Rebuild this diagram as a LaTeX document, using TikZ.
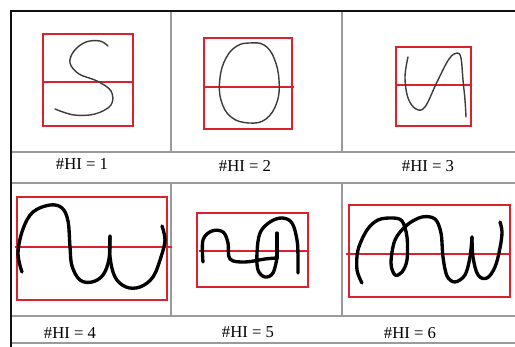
\documentclass[tikz,border=0pt]{standalone}
\usepackage{fontspec}
\setmainfont{Liberation Serif}
\definecolor{frame}{HTML}{111111}
\definecolor{rule}{HTML}{9A9A9A}
\definecolor{boxred}{HTML}{D8232E}
\definecolor{pencil}{HTML}{3C3C3C}
\definecolor{marker}{HTML}{000000}

\begin{document}
\begin{tikzpicture}[
  x=0.02cm, y=-0.02cm,
  outer/.style={draw=frame,line width=1.1pt},
  grid/.style={draw=rule,line width=0.6pt},
  bbox/.style={draw=boxred,line width=1.1pt},
  thin stroke/.style={draw=pencil,line width=0.8pt,line cap=round,line join=round},
  thick stroke/.style={draw=marker,line width=1.9pt,line cap=round,line join=round},
  label/.style={font=\fontsize{9.5}{11}\selectfont,text=black,inner sep=1pt}
]
\useasboundingbox (0,0) rectangle (515,347);

% Table rules
\draw[grid] (11,152) -- (515,152);
\draw[grid] (11,183) -- (515,183);
\draw[grid] (11,316) -- (515,316);
\draw[grid] (11,343) -- (515,343);
\draw[grid] (171,11) -- (171,152);
\draw[grid] (342,11) -- (342,152);
\draw[grid] (171,183) -- (171,316);
\draw[grid] (342,183) -- (342,316);
\draw[outer] (11,347) -- (11,11) -- (515,11);

% Bounding boxes with middle line
\draw[bbox] (43,34) rectangle (133,126);  \draw[bbox] (43,82) -- (133,82);
\draw[bbox] (204,38) rectangle (292,129); \draw[bbox] (204,87) -- (294,87);
\draw[bbox] (396,47) rectangle (471,126); \draw[bbox] (396,85) -- (471,85);
\draw[bbox] (17,197) rectangle (167,300); \draw[bbox] (15,247) -- (172,247);
\draw[bbox] (197,213) rectangle (308,287); \draw[bbox] (199,251) -- (308,251);
\draw[bbox] (349,205) rectangle (510,297); \draw[bbox] (346,254) -- (510,254);

% Row 1 strokes
\draw[thin stroke] plot[smooth,tension=0.6] coordinates {(108,46) (100,41) (86,42) (74,51) (70,63)
  (79,74) (97,81) (111,91) (111,105) (95,114) (74,115) (55,109)};
\draw[thin stroke] plot[smooth cycle,tension=0.7] coordinates {(250,43) (264,45) (274,58) (279,80)
  (277,102) (266,119) (249,123) (231,117) (221,100) (220,78) (226,58) (237,46)};
\draw[thin stroke] plot[smooth,tension=0.6] coordinates {(408,57) (405,77) (408,98) (416,109)
  (425,107) (437,82) (449,59) (457,53) (461,58) (463,80) (465,100) (466,117)};

% Row 2 strokes
\draw[thick stroke] plot[smooth,tension=0.6] coordinates {(22,272) (18,253) (23,229) (33,212)
  (50,205) (62,208) (68,221) (70,247) (72,266) (80,280) (92,282) (103,275) (109,259) (110,236)};
\draw[thick stroke] plot[smooth,tension=0.6] coordinates {(110,236) (110,257) (115,277) (126,287)
  (140,287) (153,277) (161,257) (165,240) (162,226)};
\draw[thick stroke] plot[smooth,tension=0.6] coordinates {(203,262) (203,240) (212,231) (223,232)
  (228,243) (230,259) (245,262) (265,259) (277,258)};
\draw[thick stroke] (277,233) -- (277,258);
\draw[thick stroke] plot[smooth,tension=0.6] coordinates {(277,258) (273,273) (265,277) (258,270)
  (257,253) (260,233) (270,222) (282,218) (292,223) (297,240) (298,257) (298,273)};
\draw[thick stroke] plot[smooth,tension=0.55] coordinates {(362,283) (357,270) (358,250) (367,230)
  (378,220) (392,218) (402,221) (407,237) (407,260) (402,272) (395,275) (391,263) (395,240)
  (407,225) (422,217) (435,219) (441,233) (443,257) (447,276) (455,282) (465,275) (470,257)
  (472,237)};
\draw[thick stroke] plot[smooth,tension=0.6] coordinates {(472,237) (473,257) (478,275) (487,278)
  (495,267) (500,248) (502,232) (500,222)};

% Labels
\node[label] (hi1) at (82,164) {\#HI = 1};
\node[label] (hi2) at (245,166) {\#HI = 2};
\node[label] (hi3) at (428,166) {\#HI = 3};
\node[label] (hi4) at (70,333) {\#HI = 4};
\node[label] (hi5) at (248,332) {\#HI = 5};
\node[label] (hi6) at (410,333) {\#HI = 6};

\end{tikzpicture}
\end{document}
